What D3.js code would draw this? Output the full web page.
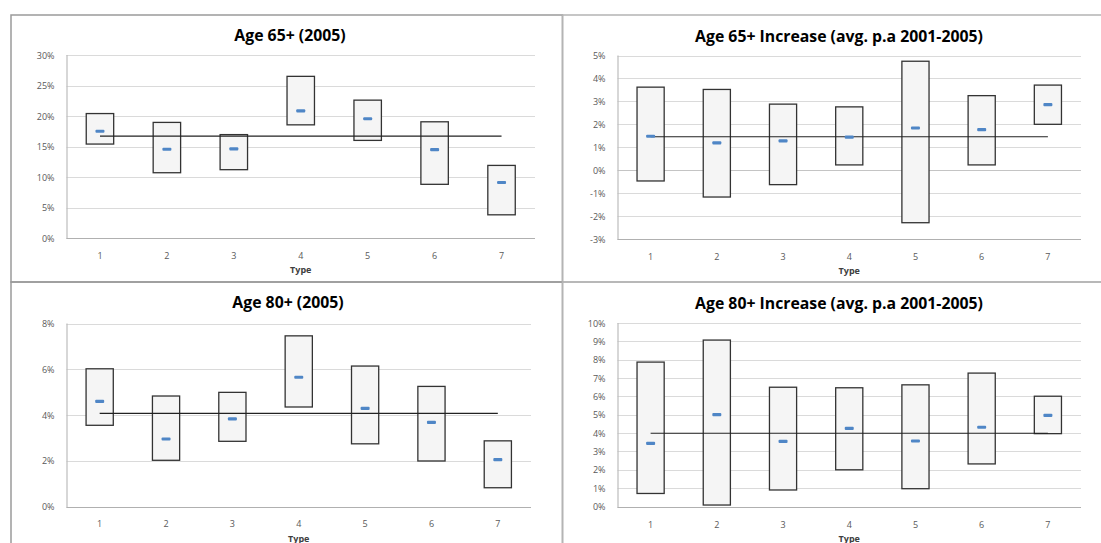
<!DOCTYPE html>
<html>
<head>
<meta charset="utf-8">
<script src="https://cdn.jsdelivr.net/npm/d3@7"></script>
<style>
  html, body { margin: 0; padding: 0; background: #fff; }
  svg { display: block; }
  text { font-family: "Open Sans", "DejaVu Sans", sans-serif; }
</style>
</head>
<body>
<svg id="chart" width="1101" height="543"></svg>
<script>
// ---------- data ----------
const categories = ["1", "2", "3", "4", "5", "6", "7"];

const titles = [
  "Age 65+ (2005)",
  "Age 65+ Increase (avg. p.a 2001-2005)",
  "Age 80+ (2005)",
  "Age 80+ Increase (avg. p.a 2001-2005)"
];

// Panel 1: Age 65+ share (2005), %
const age65High = [20.4, 18.95, 16.95, 26.5, 22.6, 19.05, 11.9];
const age65Low  = [15.4, 10.7, 11.2, 18.55, 16.0, 8.8, 3.8];
const age65Mean = [17.5, 14.55, 14.6, 20.85, 19.55, 14.5, 9.1];
const age65Avg  = 16.7;
const age65Ticks = [0, 5, 10, 15, 20, 25, 30];

// Panel 2: Age 65+ increase, % p.a.
const inc65High = [3.62, 3.52, 2.88, 2.76, 4.75, 3.25, 3.71];
const inc65Low  = [-0.47, -1.17, -0.63, 0.23, -2.29, 0.23, 2.0];
const inc65Mean = [1.48, 1.19, 1.28, 1.44, 1.84, 1.77, 2.86];
const inc65Avg  = 1.46;
const inc65Ticks = [-3, -2, -1, 0, 1, 2, 3, 4, 5];

// Panel 3: Age 80+ share (2005), %
const age80High = [6.02, 4.83, 4.99, 7.46, 6.14, 5.25, 2.87];
const age80Low  = [3.55, 2.02, 2.85, 4.35, 2.74, 1.99, 0.82];
const age80Mean = [4.6, 2.95, 3.83, 5.65, 4.29, 3.68, 2.05];
const age80Avg  = 4.07;
const age80Ticks = [0, 2, 4, 6, 8];

// Panel 4: Age 80+ increase, % p.a.
const inc80High = [7.87, 9.07, 6.5, 6.47, 6.63, 7.27, 6.01];
const inc80Low  = [0.71, 0.08, 0.9, 2.0, 0.97, 2.32, 3.97];
const inc80Mean = [3.44, 5.01, 3.55, 4.26, 3.57, 4.32, 4.97];
const inc80Avg  = 3.99;
const inc80Ticks = [0, 1, 2, 3, 4, 5, 6, 7, 8, 9, 10];

const xTitle = "Type";

// ---------- layout ----------
const svg = d3.select("#chart");

const frames = [
  {x: 11, y: 15, w: 551.5, h: 267, stroke: "#9a9a9a"},
  {x: 562.5, y: 15, w: 560, h: 267, stroke: "#b4b4b4"},
  {x: 11, y: 282, w: 551.5, h: 280, stroke: "#9a9a9a"},
  {x: 562.5, y: 282, w: 560, h: 280, stroke: "#b4b4b4"}
];
frames.forEach(f => {
  svg.append("rect").attr("x", f.x).attr("y", f.y).attr("width", f.w).attr("height", f.h)
    .attr("fill", "none").attr("stroke", f.stroke).attr("stroke-width", 1.5);
});

const panels = [
  {title: titles[0], hi: age65High, lo: age65Low, mean: age65Mean, avg: age65Avg, ticks: age65Ticks,
   x0: 66.5, x1: 535, yTop: 55, yBot: 238, titleX: 290, titleY: 41, catY: 258.5, typeY: 272.5},
  {title: titles[1], hi: inc65High, lo: inc65Low, mean: inc65Mean, avg: inc65Avg, ticks: inc65Ticks,
   x0: 617.5, x1: 1081, yTop: 55.5, yBot: 239, titleX: 839, titleY: 42, catY: 260, typeY: 274},
  {title: titles[2], hi: age80High, lo: age80Low, mean: age80Mean, avg: age80Avg, ticks: age80Ticks,
   x0: 66.5, x1: 531, yTop: 323.5, yBot: 506.5, titleX: 288, titleY: 308, catY: 527, typeY: 541.5},
  {title: titles[3], hi: inc80High, lo: inc80Low, mean: inc80Mean, avg: inc80Avg, ticks: inc80Ticks,
   x0: 617.5, x1: 1081, yTop: 323, yBot: 506.5, titleX: 839, titleY: 309, catY: 527.5, typeY: 541.5}
];

panels.forEach(p => {
  const g = svg.append("g");
  const x = d3.scaleBand().domain(categories).range([p.x0, p.x1]).paddingInner(0).paddingOuter(0);
  const y = d3.scaleLinear().domain([d3.min(p.ticks), d3.max(p.ticks)]).range([p.yBot, p.yTop]);

  g.append("g").selectAll("line").data(p.ticks).join("line")
    .attr("x1", p.x0).attr("x2", p.x1)
    .attr("y1", d => Math.round(y(d)) + 0.5).attr("y2", d => Math.round(y(d)) + 0.5)
    .attr("stroke", d => d === 0 ? "#c4c4c4" : "#dadada").attr("stroke-width", 1.2);

  const yAxis = d3.axisLeft(y).tickValues(p.ticks).tickSize(0).tickPadding(0)
    .tickFormat(d => d + "%");
  const ya = g.append("g").attr("transform", `translate(${p.x0 - 12},0)`).call(yAxis);
  ya.select(".domain").remove();
  ya.selectAll("text").attr("font-size", 9).attr("fill", "#595959")
    .attr("font-family", '"Open Sans", sans-serif').attr("dy", "0.35em");

  g.append("line").attr("x1", p.x0 + 0.5).attr("x2", p.x0 + 0.5)
    .attr("y1", p.yTop).attr("y2", p.yBot + 0.5).attr("stroke", "#bdbdbd").attr("stroke-width", 1.2);
  g.append("line").attr("x1", p.x0).attr("x2", p.x1)
    .attr("y1", Math.round(p.yBot) + 0.5).attr("y2", Math.round(p.yBot) + 0.5)
    .attr("stroke", "#b0b0b0").attr("stroke-width", 1.2);

  const xAxis = d3.axisBottom(x).tickSize(0).tickPadding(0);
  const xa = g.append("g").attr("transform", `translate(0,${p.catY})`).call(xAxis);
  xa.select(".domain").remove();
  xa.selectAll("text").attr("font-size", 9).attr("fill", "#595959").attr("dy", 0)
    .attr("font-family", '"Open Sans", sans-serif');

  g.append("text").attr("x", (p.x0 + p.x1) / 2).attr("y", p.typeY)
    .attr("text-anchor", "middle").attr("font-size", 9).attr("font-weight", "bold")
    .attr("fill", "#404040").text(xTitle);

  g.append("text").attr("x", p.titleX).attr("y", p.titleY)
    .attr("text-anchor", "middle").attr("font-size", 15.8).attr("font-weight", "bold")
    .attr("fill", "#000").text(p.title);

  const bw = x.bandwidth() * 0.41;
  const rows = categories.map((c, i) => ({c, hi: p.hi[i], lo: p.lo[i], mean: p.mean[i]}));
  g.append("g").selectAll("rect").data(rows).join("rect")
    .attr("x", d => x(d.c) + x.bandwidth() / 2 - bw / 2)
    .attr("width", bw)
    .attr("y", d => y(d.hi))
    .attr("height", d => y(d.lo) - y(d.hi))
    .attr("fill", "#f5f5f5").attr("stroke", "#333").attr("stroke-width", 1.3);

  g.append("line")
    .attr("x1", x(categories[0]) + x.bandwidth() / 2)
    .attr("x2", x(categories[categories.length - 1]) + x.bandwidth() / 2)
    .attr("y1", y(p.avg)).attr("y2", y(p.avg))
    .attr("stroke", "#222").attr("stroke-width", 1.1);

  g.append("g").selectAll("rect").data(rows).join("rect")
    .attr("x", d => x(d.c) + x.bandwidth() / 2 - 4.5)
    .attr("width", 9)
    .attr("y", d => y(d.mean) - 1.6)
    .attr("height", 3.2)
    .attr("rx", 1)
    .attr("fill", "#4f86c6");
});
</script>
</body>
</html>
